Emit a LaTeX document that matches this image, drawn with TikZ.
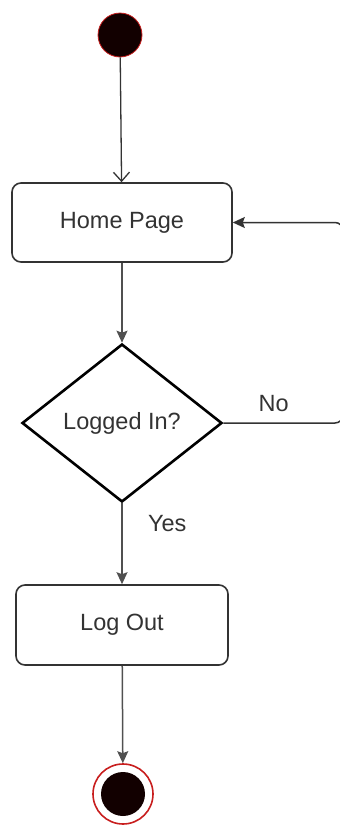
\documentclass[tikz,border=0pt]{standalone}
\usepackage{fontspec}
\setmainfont{Liberation Sans}
\usetikzlibrary{arrows.meta, shapes.geometric}
\definecolor{linegray}{RGB}{51, 51, 51}
\definecolor{arrowgray}{RGB}{80, 80, 80}
\definecolor{initdark}{RGB}{18, 0, 0}
\definecolor{ringred}{RGB}{200, 30, 30}

\begin{document}
\begin{tikzpicture}[
    x=1pt, y=-1pt,
    % Define Styles for Consistency
    activity/.style={
        rectangle, rounded corners=9pt, draw=linegray, line width=1.6pt,
        fill=white, text=linegray, font=\fontsize{23.5}{28}\selectfont,
        inner sep=0pt
    },
    decision/.style={
        diamond, draw=black, line width=2.6pt, fill=white, aspect=1.26,
        minimum width=200pt, minimum height=158pt, inner sep=0pt,
        text=linegray, font=\fontsize{23.5}{28}\selectfont
    },
    initstate/.style={
        circle, draw=ringred, line width=0.8pt, fill=initdark,
        minimum size=44pt, inner sep=0pt
    },
    finalstate/.style={
        circle, draw=ringred, line width=1.6pt, fill=white,
        minimum size=60pt, inner sep=0pt,
        path picture={\fill[initdark] (path picture bounding box.center) circle (22pt);}
    },
    flow/.style={
        -{Stealth[length=12pt, width=11pt, inset=2pt]}, draw=arrowgray, line width=1.5pt
    },
    openflow/.style={
        -{Straight Barb[length=9pt, width=16pt]}, draw=linegray, line width=1.3pt
    },
    labeltext/.style={
        text=linegray, font=\fontsize{23.5}{28}\selectfont
    }
]
    \useasboundingbox (0,0) rectangle (340,825);

    % --- 1. States and Activities ---
    \node[initstate] (start) at (120, 35) {};

    \node[activity, minimum width=220pt, minimum height=79pt] (home) at (122, 222.5) {Home Page};

    \node[decision] (logged) at (122, 423) {Logged In?};

    \node[activity, minimum width=212pt, minimum height=80pt] (logout) at (122, 625) {Log Out};

    \node[finalstate] (final) at (123, 794) {};

    % --- 2. Connectors ---
    \draw[openflow] (start) -- (home);

    \draw[flow] (home) -- (logged);

    \draw[flow] (logged) -- node[pos=0.25, right=22pt, labeltext] {Yes} (logout);

    \draw[flow] (logout) -- (final);

    % Loop back when not logged in
    \coordinate (loopx) at (343, 0);
    \draw[flow, draw=linegray, rounded corners=8pt]
        (logged.east) -- node[pos=0.42, above=7pt, labeltext] {No} (logged.east -| loopx)
        -- (home.east -| loopx) -- (home.east);

\end{tikzpicture}
\end{document}
